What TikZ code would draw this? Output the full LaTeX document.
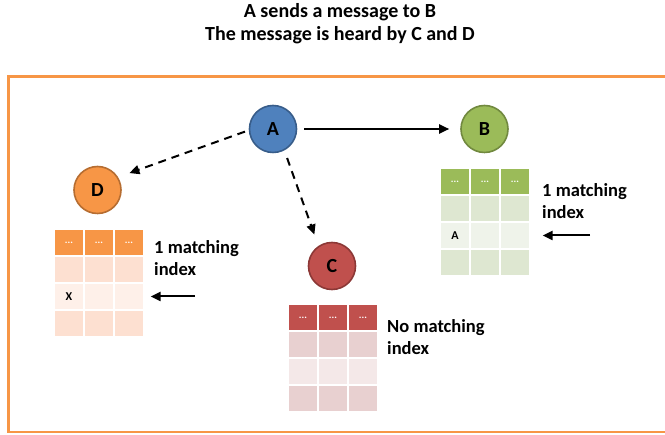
\documentclass[tikz,border=0pt]{standalone}
\usepackage{fontspec}
\setmainfont{Carlito}
\usetikzlibrary{arrows.meta}

\definecolor{blueA}{HTML}{4F81BD}\definecolor{blueAd}{HTML}{385D8A}
\definecolor{greenB}{HTML}{9BBB59}\definecolor{greenBd}{HTML}{71893F}
\definecolor{redC}{HTML}{C0504D}\definecolor{redCd}{HTML}{8C3836}
\definecolor{orangeD}{HTML}{F79646}\definecolor{orangeDd}{HTML}{B66D31}
\definecolor{bandG}{HTML}{DEE7D1}\definecolor{liteG}{HTML}{EFF3EA}
\definecolor{bandR}{HTML}{E8D0D0}\definecolor{liteR}{HTML}{F4E8E8}
\definecolor{bandO}{HTML}{FDE0D1}\definecolor{liteO}{HTML}{FEF0E9}

% one routing table: name, left, top, header colour, band colour, light colour, entry
\newcommand\routetable[7]{%
  \foreach \c in {0,1,2}{%
    \node[hdr, fill=#4] (#1-0-\c) at ({#2+15+30*\c},{#3+13.5}) {...};
    \node[cell, fill=#5] (#1-1-\c) at ({#2+15+30*\c},{#3+40.5}) {};
    \node[cell, fill=#6] (#1-2-\c) at ({#2+15+30*\c},{#3+67.5}) {\ifnum\c=0 #7\fi};
    \node[cell, fill=#5] (#1-3-\c) at ({#2+15+30*\c},{#3+94.5}) {};
  }%
}

\begin{document}
\begin{tikzpicture}[x=1pt,y=-1pt,
  station/.style={circle, minimum size=47pt, inner sep=0, line width=1.6pt,
    font=\bfseries\fontsize{20}{22}\selectfont},
  cell/.style={rectangle, minimum width=30pt, minimum height=27pt, inner sep=0,
    draw=white, line width=1.2pt, font=\bfseries\fontsize{12}{14}\selectfont},
  hdr/.style={cell, text=white, font=\bfseries\fontsize{10}{11}\selectfont},
  note/.style={anchor=west, align=left, inner sep=0,
    font=\bfseries\fontsize{18.5}{22}\selectfont},
  msg/.style={-{Triangle[length=10pt,width=9pt]}, line width=2pt},
  heard/.style={msg, dash pattern=on 8pt off 6pt}]
\useasboundingbox (0,0) rectangle (665,435);

% title
\node[align=center, font=\bfseries\fontsize{20}{23}\selectfont] (title) at (340,24)
  {A sends a message to B\\The message is heard by C and D};

% frame
\draw[orangeD, line width=2.8pt] (670,76.5) -- (8.3,76.5) -- (8.3,432) -- (670,432);

% stations
\node[station, fill=blueA, draw=blueAd] (A) at (273,129) {A};
\node[station, fill=greenB, draw=greenBd] (B) at (484.5,129) {B};
\node[station, fill=redC, draw=redCd] (C) at (332,266) {C};
\node[station, fill=orangeD, draw=orangeDd] (D) at (97.5,190) {D};

% tables
\routetable{TD}{54}{229}{orangeD}{bandO}{liteO}{X}
\routetable{TB}{440}{168}{greenB}{bandG}{liteG}{A}
\routetable{TC}{288}{304}{redC}{bandR}{liteR}{}

% notes
\node[note] (nD) at (154,258.5) {1 matching\\index};
\node[note] (nB) at (542,201) {1 matching\\index};
\node[note] (nC) at (387,337) {No matching\\index};

% transmissions
\draw[msg, shorten <=7pt, shorten >=11pt] (A) -- (B);
\draw[heard, shorten <=4pt, shorten >=12pt] (A.183) -- (D.32);
\draw[heard, shorten <=8pt, shorten >=12pt] (A.-62) -- (C.124);

% pointers to the matching rows
\coordinate (pD) at (195,296.5);
\coordinate (pB) at (590,235.5);
\draw[msg, shorten >=6pt] (pD) -- (TD-2-2.east);
\draw[msg, shorten >=12pt] (pB) -- (TB-2-2.east);
\end{tikzpicture}
\end{document}
